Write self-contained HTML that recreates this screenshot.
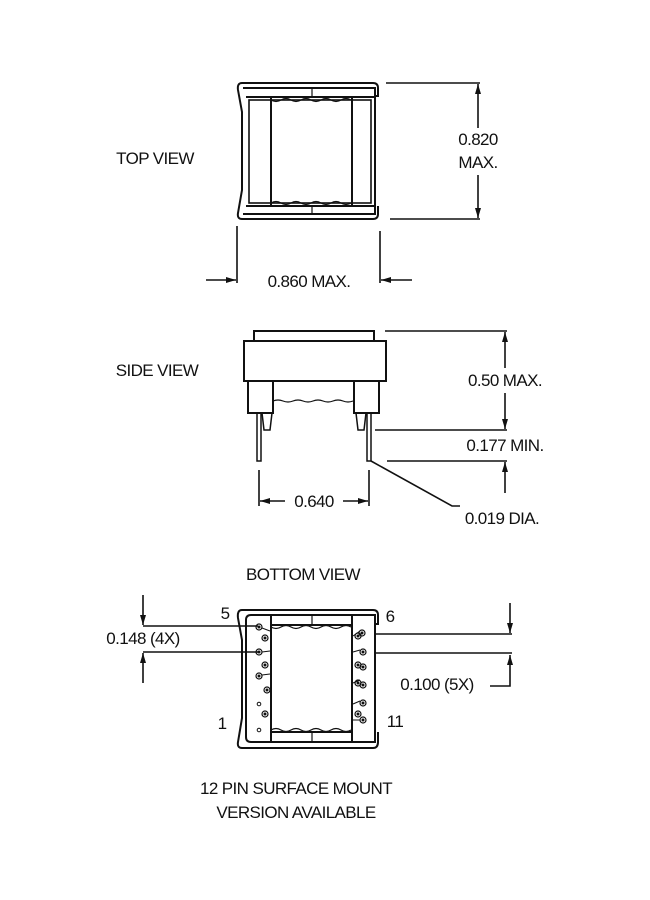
<!DOCTYPE html>
<html><head><meta charset="utf-8"><style>
html,body{margin:0;padding:0;background:#fff}
svg{display:block}
text{font-family:"Liberation Sans",sans-serif;font-size:17px;letter-spacing:-0.6px;fill:#111}
</style></head><body>
<svg width="650" height="900" viewBox="0 0 650 900" xmlns="http://www.w3.org/2000/svg">
<defs>
<marker id="a" viewBox="0 0 10 6" refX="10" refY="3" markerWidth="10" markerHeight="6" markerUnits="userSpaceOnUse" orient="auto"><path d="M0,0 L10,3 L0,6 z" fill="#111"/></marker>
<g id="ring"><circle r="3" fill="none" stroke="#111" stroke-width="1.2"/><circle r="1" fill="#111"/></g>
</defs>
<g fill="none" stroke="#111" stroke-width="2">
<!-- TOP VIEW -->
<path d="M242,83 H373 Q378,83 378,88 V96 H374"/>
<path d="M378,206 V214 Q378,219 373,219 H242 Q237,219 238,213 L242,190 V112 L238,90 Q237,83 242,83"/>
<path d="M243,88 H375 V214 H243"/>
<line x1="246" y1="97" x2="375" y2="97"/>
<line x1="246" y1="206" x2="375" y2="206"/>
<rect x="249" y="100" width="122" height="103" stroke-width="1.6"/>
<line x1="271" y1="97" x2="271" y2="206"/>
<line x1="352" y1="97" x2="352" y2="206"/>
<line x1="312" y1="88" x2="312" y2="97" stroke-width="1.2"/>
<line x1="312" y1="206" x2="312" y2="214" stroke-width="1.2"/>
<path d="M271,100 q5,3 10,0 t10,0 t10,0 t10,0 t10,0 t10,0 t10,0 t10,0" stroke-width="1.2"/>
<path d="M271,203 q5,-3 10,0 t10,0 t10,0 t10,0 t10,0 t10,0 t10,0 t10,0" stroke-width="1.2"/>
</g>
<g stroke="#111" stroke-width="1.6" fill="none">
<line x1="386" y1="83" x2="480" y2="83"/>
<line x1="390" y1="219" x2="480" y2="219"/>
<line x1="478" y1="128" x2="478" y2="84" marker-end="url(#a)"/>
<line x1="478" y1="175" x2="478" y2="218" marker-end="url(#a)"/>
<line x1="237" y1="226" x2="237" y2="283"/>
<line x1="380" y1="231" x2="380" y2="283"/>
<line x1="206" y1="280" x2="236" y2="280" marker-end="url(#a)"/>
<line x1="412" y1="280" x2="381" y2="280" marker-end="url(#a)"/>
</g>
<text x="155" y="164" text-anchor="middle">TOP VIEW</text>
<text x="478" y="145" text-anchor="middle">0.820</text>
<text x="478" y="168" text-anchor="middle">MAX.</text>
<text x="309" y="287" text-anchor="middle">0.860 MAX.</text>

<!-- SIDE VIEW -->
<g fill="none" stroke="#111" stroke-width="2">
<rect x="254" y="331" width="120" height="10"/>
<rect x="244" y="341" width="142" height="40"/>
<path d="M248,381 V413 H273 V381"/>
<path d="M354,381 V413 H379 V381"/>
<path d="M262,413 L264,430 H270 L272,413" stroke-width="1.5"/>
<path d="M356,413 L358,430 H364 L366,413" stroke-width="1.5"/>
<path d="M257,413 V461 H261 V413" stroke-width="1.5"/>
<path d="M367,413 V461 H371 V413" stroke-width="1.5"/>
<path d="M273,401 q5,-2 10,0 t10,0 t10,0 t10,0 t10,0 t10,0 t10,0 t10,0" stroke-width="1.2"/>
</g>
<g stroke="#111" stroke-width="1.6" fill="none">
<line x1="385" y1="331" x2="507" y2="331"/>
<line x1="375" y1="430" x2="507" y2="430"/>
<line x1="387" y1="461" x2="507" y2="461"/>
<line x1="505" y1="368" x2="505" y2="332" marker-end="url(#a)"/>
<line x1="505" y1="393" x2="505" y2="429" marker-end="url(#a)"/>
<line x1="505" y1="493" x2="505" y2="462" marker-end="url(#a)"/>
<path d="M371,461 L452,506 H460"/>
<line x1="259" y1="470" x2="259" y2="506"/>
<line x1="369" y1="470" x2="369" y2="506"/>
<line x1="285" y1="501" x2="260" y2="501" marker-end="url(#a)"/>
<line x1="343" y1="501" x2="368" y2="501" marker-end="url(#a)"/>
</g>
<text x="157" y="376" text-anchor="middle">SIDE VIEW</text>
<text x="505" y="386" text-anchor="middle">0.50 MAX.</text>
<text x="505" y="451" text-anchor="middle">0.177 MIN.</text>
<text x="502" y="524" text-anchor="middle">0.019 DIA.</text>
<text x="314" y="507" text-anchor="middle">0.640</text>

<!-- BOTTOM VIEW -->
<text x="303" y="580" text-anchor="middle">BOTTOM VIEW</text>
<g fill="none" stroke="#111" stroke-width="2">
<path d="M242,610 H373 Q378,610 378,615 V624 H374"/>
<path d="M378,732 V742 Q378,748 373,748 H242 Q237,748 238,742 L242,718 V640 L238,618 Q237,610 242,610"/>
<path d="M251,615 H375 V742 H251 Q246,742 246,737 V620 Q246,615 251,615"/>
<line x1="271" y1="615" x2="271" y2="742"/>
<line x1="352" y1="615" x2="352" y2="742"/>
<line x1="271" y1="625" x2="352" y2="625"/>
<line x1="271" y1="732" x2="352" y2="732"/>
<line x1="312" y1="615" x2="312" y2="625" stroke-width="1.2"/>
<line x1="312" y1="732" x2="312" y2="742" stroke-width="1.2"/>
<path d="M271,627 q5,3 10,0 t10,0 t10,0 t10,0 t10,0 t10,0 t10,0 t10,0" stroke-width="1.2"/>
<path d="M271,730 q5,-3 10,0 t10,0 t10,0 t10,0 t10,0 t10,0 t10,0 t10,0" stroke-width="1.2"/>
</g>
<g stroke="#111" stroke-width="1">
<use href="#ring" x="259" y="627"/><line x1="262" y1="628" x2="270" y2="631"/>
<use href="#ring" x="265" y="638"/>
<use href="#ring" x="259" y="652"/><line x1="262" y1="652" x2="270" y2="651"/>
<use href="#ring" x="265" y="665"/>
<use href="#ring" x="259" y="676"/><line x1="262" y1="675" x2="270" y2="674"/>
<use href="#ring" x="267" y="690"/>
<circle cx="259" cy="704" r="1.8" fill="none"/>
<use href="#ring" x="265" y="714"/>
<circle cx="259" cy="730" r="1.8" fill="none"/>
<use href="#ring" x="358" y="636"/><use href="#ring" x="362" y="633"/><line x1="353" y1="636" x2="360" y2="631"/>
<use href="#ring" x="363" y="652"/><line x1="353" y1="652" x2="360" y2="650"/>
<use href="#ring" x="358" y="665"/><use href="#ring" x="363" y="667"/>
<use href="#ring" x="358" y="683"/><use href="#ring" x="363" y="685"/><line x1="353" y1="683" x2="360" y2="680"/>
<use href="#ring" x="363" y="703"/><line x1="353" y1="704" x2="360" y2="701"/>
<use href="#ring" x="358" y="714"/><use href="#ring" x="363" y="720"/><line x1="353" y1="720" x2="360" y2="720"/>
</g>
<g stroke="#111" stroke-width="1.6" fill="none">
<line x1="143" y1="626" x2="258" y2="626"/>
<line x1="143" y1="652" x2="258" y2="652"/>
<line x1="143" y1="595" x2="143" y2="625" marker-end="url(#a)"/>
<line x1="143" y1="683" x2="143" y2="653" marker-end="url(#a)"/>
<line x1="375" y1="634" x2="512" y2="634"/>
<line x1="375" y1="653" x2="512" y2="653"/>
<line x1="510" y1="603" x2="510" y2="633" marker-end="url(#a)"/>
<path d="M490,686 H510 V655" marker-end="url(#a)"/>
</g>
<text x="225" y="619" text-anchor="middle">5</text>
<text x="390" y="622" text-anchor="middle">6</text>
<text x="222" y="729" text-anchor="middle">1</text>
<text x="395" y="727" text-anchor="middle">11</text>
<text x="143" y="644" text-anchor="middle">0.148 (4X)</text>
<text x="437" y="690" text-anchor="middle">0.100 (5X)</text>
<text x="296" y="794" text-anchor="middle">12 PIN SURFACE MOUNT</text>
<text x="296" y="818" text-anchor="middle">VERSION AVAILABLE</text>
</svg>
</body></html>
